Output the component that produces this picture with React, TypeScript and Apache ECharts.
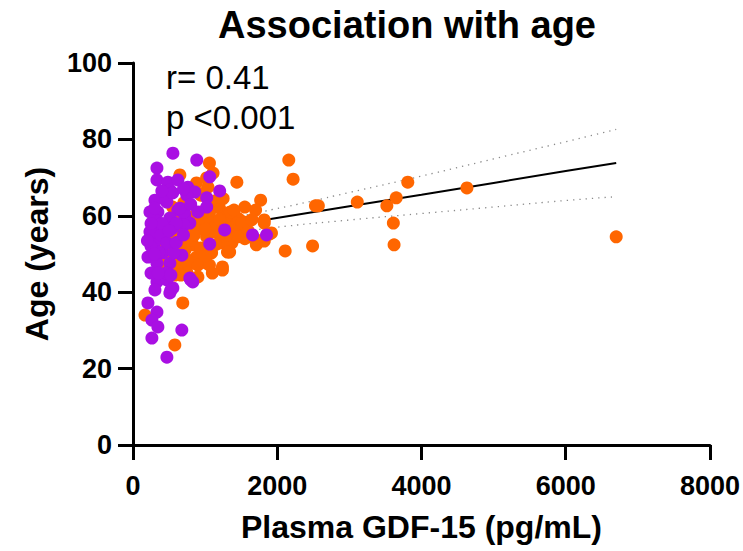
import React, { useEffect, useRef } from "react";
import * as echarts from "echarts";

const titleText = "Association with age";
const xName = "Plasma GDF-15 (pg/mL)";
const yName = "Age (years)";
const annotR = "r= 0.41";
const annotP = "p <0.001";

const xTicks = { min: 0, max: 8000, interval: 2000 };
const yTicks = { min: 0, max: 100, interval: 20 };

// Orange group: [GDF-15, age]
const orangeX = [6700, 4630, 3810, 3650, 3520, 3610, 3620, 3110, 2530, 2570, 2220, 2160, 2490, 2110, 1770, 1700, 1820, 1890, 1710, 1820,
  1060, 1110, 650, 1440, 880, 990, 1550, 1200, 1060, 1340, 1480, 1590, 1380, 1520, 1130, 880, 1020, 1240, 1710, 1200,
  1340, 830, 720, 1340, 1090, 880, 550, 830, 1020, 1240, 680, 550, 550, 690, 900, 1060, 1240, 580, 750, 690,
  166, 580, 1450, 1040, 1170, 1410, 1510, 1820, 1920, 1270, 1370, 1690, 1310, 525, 815, 940, 566, 663, 249, 705, 940, 1020, 1090,
  300, 450, 600, 750, 950, 1150, 1300, 700, 850, 1000, 400, 1200, 1600, 1550, 1450, 950, 850, 1150, 1250, 1350,
  1650, 600, 750, 1000, 1150, 400, 900, 1100, 800, 650, 1300, 1400, 500, 350];
const orangeY = [54.5, 67.3, 68.8, 64.7, 62.6, 58.1, 52.4, 63.6, 62.6, 62.6, 69.6, 74.6, 52.1, 50.8, 64.1, 61.5, 58.9, 55.2, 52.4, 53.4,
  73.8, 71.2, 70.7, 68.8, 68.6, 66.0, 62.3, 62.0, 60.7, 58.9, 58.9, 58.4, 56.3, 56.8, 55.8, 56.3, 54.5, 54.2, 53.7, 52.9,
  52.9, 52.4, 51.0, 50.5, 50.3, 49.2, 49.0, 47.6, 47.6, 46.6, 57.1, 62.3, 47.1, 46.6, 47.1, 47.1, 45.8, 44.5, 45.0, 37.2,
  34.0, 26.2, 59.4, 67.5, 62.8, 57.1, 58.1, 58.1, 55.5, 52.9, 52.9, 53.7, 50.5, 55.0, 53.7, 51.6, 47.6, 44.5, 53.1, 63.4, 65.4, 69.9, 58.1,
  54.0, 57.0, 55.5, 56.0, 58.5, 57.5, 60.0, 53.0, 55.0, 56.5, 53.5, 59.0, 56.0, 54.0, 54.5, 61.0, 60.0, 64.0, 64.5, 61.0,
  59.0, 51.0, 48.5, 49.5, 52.5, 47.5, 44.0, 45.0, 58.0, 60.0, 55.0, 61.5, 52.0, 50.0];

// Purple group: [GDF-15, age]
const purpleX = [553, 884, 332, 1064, 332, 484, 622, 760, 857, 511, 1202, 304, 470, 746, 1022, 1022, 622, 345, 718, 304,
  511, 788, 1271, 235, 373, 553, 414, 304, 1064, 207, 414, 677, 332, 511, 1658, 1851, 470, 332, 470, 788,
  829, 304, 511, 553, 207, 332, 262, 345, 677, 262, 470, 249, 387, 705, 470, 359, 566, 456, 525, 801, 525, 235, 705,
  250, 400, 300, 450, 600, 650, 550, 700, 400, 250, 350, 600, 500, 300, 200, 250, 700, 800, 900];
const purpleY = [76.4, 74.6, 72.5, 70.2, 69.4, 68.8, 69.4, 67.5, 66.2, 66.8, 66.5, 64.1, 63.6, 65.4, 64.7, 62.3, 61.5, 61.0, 60.2, 58.9,
  59.4, 58.1, 56.3, 55.8, 56.3, 56.8, 54.5, 53.1, 52.6, 49.2, 50.3, 49.7, 47.6, 47.6, 55.0, 55.0, 45.0, 42.7, 43.2, 43.7,
  42.7, 40.6, 39.8, 41.1, 37.2, 34.8, 32.7, 30.9, 30.1, 28.0, 23.0, 55.5, 55.0, 57.6, 52.9, 50.5, 50.3, 45.0, 44.5, 43.2, 40.6, 61.0, 61.0,
  52.0, 58.0, 62.0, 64.0, 58.0, 62.0, 66.0, 67.0, 66.5, 45.0, 45.0, 53.0, 56.0, 50.0, 53.5, 58.0, 55.0, 63.0, 61.0];

// Regression line and its dotted confidence band
const fitX = [200, 900, 1950, 3000, 4000, 5000, 6000, 6700];
const fitY = [53.9, 56.1, 59.3, 62.5, 65.5, 68.6, 71.7, 73.8];
const bandUpper = [56.0, 57.9, 61.7, 66.1, 70.4, 74.9, 79.4, 82.6];
const bandLower = [51.8, 54.3, 56.9, 58.9, 60.6, 62.3, 64.0, 65.0];

const FONT = '"Liberation Sans", Arial, Helvetica, sans-serif';
const ORANGE = "#FF6600";
const PURPLE = "#A90FE3";

const zip = (a: number[], b: number[]) => a.map((v, i) => [v, b[i]]);

export default function App() {
  const ref = useRef<HTMLDivElement>(null);
  useEffect(() => {
    if (!ref.current) return;
    const chart = echarts.init(ref.current, undefined, { renderer: "svg" });
    const axisCommon = {
      axisLine: { show: true, lineStyle: { color: "#000", width: 3 } },
      axisTick: { show: true, inside: false, length: 15, lineStyle: { color: "#000", width: 3 } },
      splitLine: { show: false },
      nameTextStyle: { fontFamily: FONT, fontWeight: "bold", fontSize: 32, color: "#000" },
    };
    chart.setOption({
      animation: false,
      backgroundColor: "#fff",
      title: {
        text: titleText,
        left: 402,
        top: 1,
        textAlign: "center",
        textStyle: { fontFamily: FONT, fontWeight: "bold", fontSize: 38, color: "#000" },
      },
      grid: { left: 133, right: 31, top: 63, bottom: 106, containLabel: false },
      xAxis: {
        type: "value",
        ...xTicks,
        ...axisCommon,
        name: xName,
        nameLocation: "middle",
        nameGap: 66,
        axisLabel: {
          fontFamily: FONT, fontWeight: "bold", fontSize: 27, color: "#000", margin: 27,
          formatter: (v: number) => String(v),
        },
      },
      yAxis: {
        type: "value",
        ...yTicks,
        ...axisCommon,
        name: yName,
        nameLocation: "middle",
        nameRotate: 90,
        nameGap: 80,
        axisLabel: {
          fontFamily: FONT, fontWeight: "bold", fontSize: 27, color: "#000", margin: 21,
          formatter: (v: number) => String(v),
        },
      },
      graphic: [
        { type: "text", left: 166, top: 61, style: { text: annotR, font: `33px ${FONT}`, fill: "#000" } },
        { type: "text", left: 166, top: 101, style: { text: annotP, font: `33px ${FONT}`, fill: "#000" } },
      ],
      series: [
        {
          type: "line", z: 1, data: zip(fitX, bandUpper), symbol: "none", smooth: true,
          lineStyle: { color: "#8a8a8a", width: 1.3, type: [1.3, 5] }, silent: true,
        },
        {
          type: "line", z: 1, data: zip(fitX, bandLower), symbol: "none", smooth: true,
          lineStyle: { color: "#8a8a8a", width: 1.3, type: [1.3, 5] }, silent: true,
        },
        {
          type: "line", z: 1, data: zip(fitX, fitY), symbol: "none",
          lineStyle: { color: "#000", width: 2 }, silent: true,
        },
        {
          type: "scatter", z: 3, data: zip(orangeX, orangeY), symbol: "circle", symbolSize: 13,
          itemStyle: { color: ORANGE, opacity: 1 },
        },
        {
          type: "scatter", z: 4, data: zip(purpleX, purpleY), symbol: "circle", symbolSize: 13,
          itemStyle: { color: PURPLE, opacity: 1 },
        },
      ],
    });
    return () => chart.dispose();
  }, []);
  return <div ref={ref} style={{ position: "fixed", left: 0, top: 0, width: 743, height: 551 }} />;
}
